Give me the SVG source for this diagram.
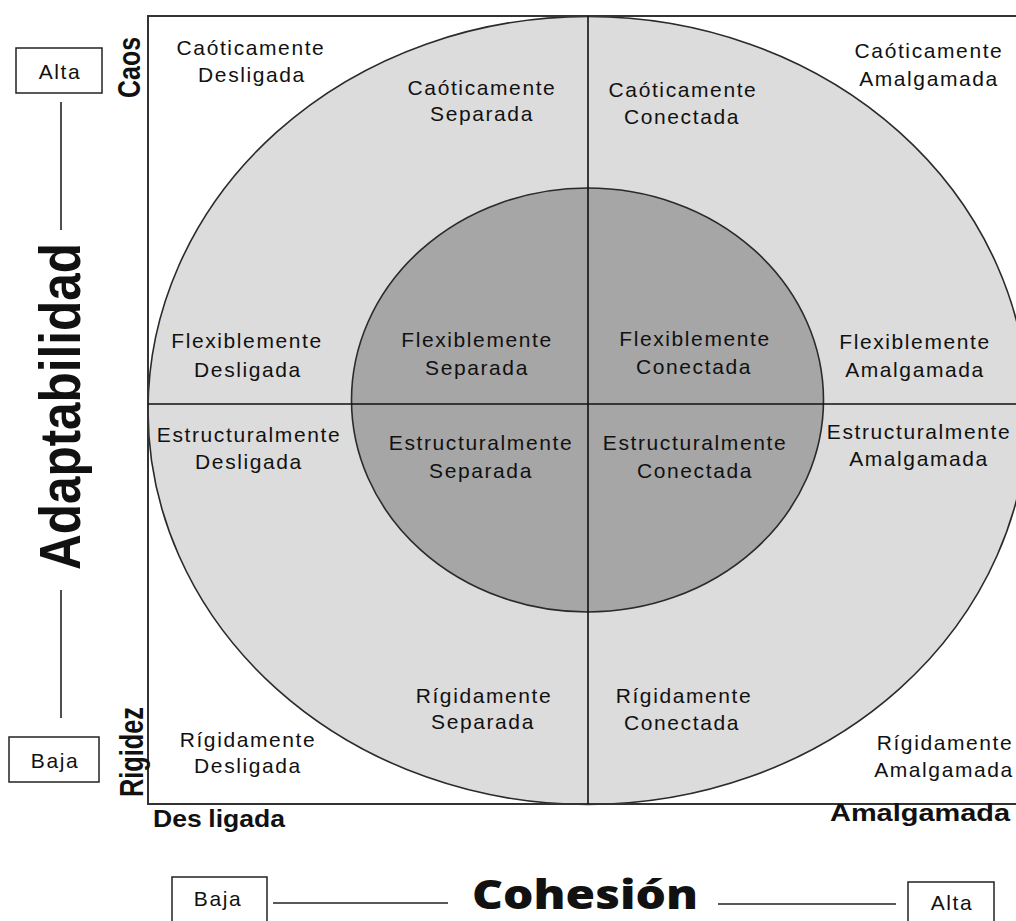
<svg xmlns="http://www.w3.org/2000/svg" width="1016" height="921" viewBox="0 0 1016 921">
<style>
.lbl{font-family:"Liberation Sans",Arial,sans-serif;font-size:21px;letter-spacing:1.6px;fill:#111;text-anchor:middle}
.box{fill:#fff;stroke:#222;stroke-width:1.5}
.ax{font-family:"Liberation Sans",Arial,sans-serif;font-weight:bold;fill:#111}
.ln{stroke:#222;stroke-width:1.6;fill:none}
</style>
<rect width="1016" height="921" fill="#fff"/>
<g id="frame">
<ellipse cx="588" cy="410.5" rx="440" ry="394" fill="#dcdcdc" stroke="#2a2a2a" stroke-width="1.6"/>
<ellipse cx="587.5" cy="400" rx="236" ry="212" fill="#a6a6a6" stroke="#2a2a2a" stroke-width="1.6"/>
<rect x="148" y="16" width="900" height="788" fill="none" stroke="#333" stroke-width="2"/>
<line x1="588" y1="16" x2="588" y2="804" stroke="#111" stroke-width="1.6"/>
<line x1="148" y1="404" x2="1016" y2="404" stroke="#111" stroke-width="1.6"/>
</g>
<g id="caoticamente-desligada"><text class="lbl" x="251" y="55">Caóticamente</text><text class="lbl" x="252" y="82">Desligada</text></g>
<g id="caoticamente-separada"><text class="lbl" x="482" y="95">Caóticamente</text><text class="lbl" x="482" y="121">Separada</text></g>
<g id="caoticamente-conectada"><text class="lbl" x="683" y="97">Caóticamente</text><text class="lbl" x="682" y="124">Conectada</text></g>
<g id="caoticamente-amalgamada"><text class="lbl" x="929" y="58">Caóticamente</text><text class="lbl" x="929" y="86">Amalgamada</text></g>
<g id="flexiblemente-desligada"><text class="lbl" x="247" y="348">Flexiblemente</text><text class="lbl" x="248" y="377">Desligada</text></g>
<g id="flexiblemente-separada"><text class="lbl" x="477" y="347">Flexiblemente</text><text class="lbl" x="477" y="375">Separada</text></g>
<g id="flexiblemente-conectada"><text class="lbl" x="695" y="346">Flexiblemente</text><text class="lbl" x="694" y="374">Conectada</text></g>
<g id="flexiblemente-amalgamada"><text class="lbl" x="915" y="349">Flexiblemente</text><text class="lbl" x="915" y="377">Amalgamada</text></g>
<g id="estructuralmente-desligada"><text class="lbl" x="249" y="442">Estructuralmente</text><text class="lbl" x="249" y="469">Desligada</text></g>
<g id="estructuralmente-separada"><text class="lbl" x="481" y="450">Estructuralmente</text><text class="lbl" x="481" y="478">Separada</text></g>
<g id="estructuralmente-conectada"><text class="lbl" x="695" y="450">Estructuralmente</text><text class="lbl" x="695" y="478">Conectada</text></g>
<g id="estructuralmente-amalgamada"><text class="lbl" x="919" y="439">Estructuralmente</text><text class="lbl" x="919" y="466">Amalgamada</text></g>
<g id="rigidamente-desligada"><text class="lbl" x="248" y="747">Rígidamente</text><text class="lbl" x="248" y="773">Desligada</text></g>
<g id="rigidamente-separada"><text class="lbl" x="484" y="703">Rígidamente</text><text class="lbl" x="483" y="729">Separada</text></g>
<g id="rigidamente-conectada"><text class="lbl" x="684" y="703">Rígidamente</text><text class="lbl" x="682" y="730">Conectada</text></g>
<g id="rigidamente-amalgamada"><text class="lbl" x="945" y="750">Rígidamente</text><text class="lbl" x="944" y="777">Amalgamada</text></g>
<g id="axis-labels">
<text class="ax" font-size="32" text-anchor="middle" textLength="61" lengthAdjust="spacingAndGlyphs" transform="translate(139.5 67.5) rotate(-90)">Caos</text>
<text class="ax" font-size="34" text-anchor="middle" textLength="90" lengthAdjust="spacingAndGlyphs" transform="translate(143 752) rotate(-90)">Rigidez</text>
<text class="ax" font-size="57" text-anchor="middle" textLength="327" lengthAdjust="spacingAndGlyphs" transform="translate(80 406.5) rotate(-90)">Adaptabilidad</text>
<text class="ax" font-size="24" x="153" y="827" textLength="132" lengthAdjust="spacingAndGlyphs">Des<tspan dx="6">ligada</tspan></text>
<text class="ax" font-size="24" x="830" y="821" textLength="180" lengthAdjust="spacingAndGlyphs">Amalgamada</text>
<text font-family="'Open Sans','Liberation Sans',sans-serif" font-weight="800" font-size="40" fill="#111" x="472" y="909" textLength="226" lengthAdjust="spacingAndGlyphs">Cohesión</text>
</g>
<g id="connectors">
<line class="ln" x1="61" y1="102" x2="61" y2="230"/>
<line class="ln" x1="61" y1="590" x2="61" y2="718"/>
<line class="ln" x1="273" y1="903" x2="448" y2="903"/>
<line class="ln" x1="718" y1="904" x2="896" y2="904"/>
</g>
<g id="alta-y"><rect class="box" x="16" y="48" width="86" height="45"/><text class="lbl" x="60" y="79" letter-spacing="1">Alta</text></g>
<g id="baja-y"><rect class="box" x="9" y="737" width="90" height="45"/><text class="lbl" x="55" y="768" letter-spacing="1">Baja</text></g>
<g id="baja-x"><rect class="box" x="172" y="877" width="95" height="50"/><text class="lbl" x="218" y="906" letter-spacing="1">Baja</text></g>
<g id="alta-x"><rect class="box" x="908" y="882" width="86" height="45"/><text class="lbl" x="952" y="910" letter-spacing="1">Alta</text></g>
</svg>
